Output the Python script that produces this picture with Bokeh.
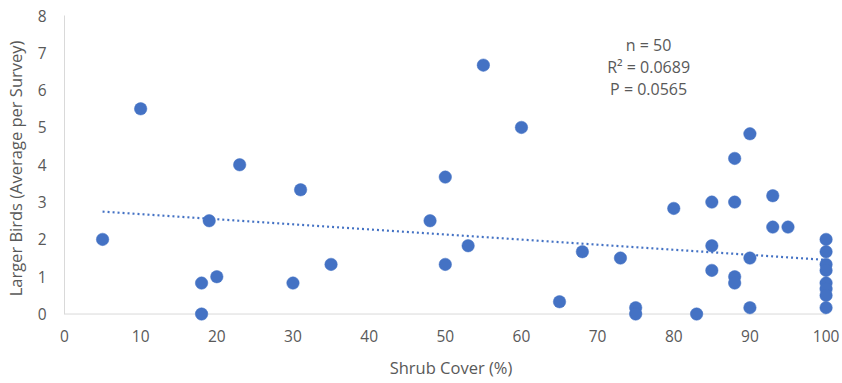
from bokeh.plotting import figure
from bokeh.models import Range1d, FixedTicker, Label
from bokeh.embed import file_html
from bokeh.resources import INLINE

# ---- data ----
shrub_cover = [5, 10, 18, 18, 19, 20, 23, 30, 31, 35, 48, 50, 50, 53, 55, 60, 65, 68, 73, 75, 75,
               80, 83, 85, 85, 85, 88, 88, 88, 88, 90, 90, 90, 93, 93, 95,
               100, 100, 100, 100, 100, 100, 100, 100]
larger_birds = [2.0, 5.5, 0.83, 0.0, 2.5, 1.0, 4.0, 0.83, 3.33, 1.33, 2.5, 3.67, 1.33, 1.83, 6.67, 5.0, 0.33, 1.67, 1.5, 0.17, 0.0,
                2.83, 0.0, 3.0, 1.83, 1.17, 4.17, 3.0, 1.0, 0.83, 4.83, 1.5, 0.17, 3.17, 2.33, 2.33,
                2.0, 1.67, 1.33, 1.17, 0.83, 0.67, 0.5, 0.17]
trend_x = [5, 100]
trend_y = [2.745, 1.45]
x_ticks = [0, 10, 20, 30, 40, 50, 60, 70, 80, 90, 100]
y_ticks = [0, 1, 2, 3, 4, 5, 6, 7, 8]
stats_lines = ["n = 50", "R\u00b2 = 0.0689", "P = 0.0565"]
x_bounds = (0, 100)
y_bounds = (0, 8)

BLUE = "#4472C4"
TEXT = "#595959"
AXIS = "#D9D9D9"
FONT = "Open Sans"

p = figure(width=842, height=383, output_backend="svg", toolbar_location=None,
           x_range=Range1d(0, 101.5), y_range=Range1d(-0.2, 8.0),
           min_border_left=63, min_border_right=5, min_border_top=15, min_border_bottom=62)
p.outline_line_color = None
p.grid.visible = False
p.background_fill_color = "white"
p.border_fill_color = "white"

for ax in (p.xaxis[0], p.yaxis[0]):
    ax.major_tick_line_color = None
    ax.minor_tick_line_color = None
    ax.major_tick_in = 0
    ax.major_tick_out = 0
    ax.minor_tick_in = 0
    ax.minor_tick_out = 0
    ax.major_label_text_font = FONT
    ax.major_label_text_font_size = "15.5px"
    ax.major_label_text_color = TEXT
    ax.axis_label_text_font = FONT
    ax.axis_label_text_font_size = "16.5px"
    ax.axis_label_text_color = TEXT
    ax.axis_label_text_font_style = "normal"

p.xaxis.ticker = FixedTicker(ticks=x_ticks)
p.yaxis.ticker = FixedTicker(ticks=y_ticks)
p.xaxis.bounds = x_bounds
p.yaxis.bounds = y_bounds
p.xaxis.axis_line_color = None
p.yaxis.axis_line_color = AXIS
p.yaxis.axis_line_width = 1
p.xaxis.major_label_standoff = 8
p.yaxis.major_label_standoff = 18
p.xaxis.axis_label_standoff = 11
p.yaxis.axis_label_standoff = 8
p.xaxis.axis_label = "Shrub Cover (%)"
p.yaxis.axis_label = "Larger Birds (Average per Survey)"

# baseline of the value axis at y = 0
p.line(x=list(x_bounds), y=[y_bounds[0], y_bounds[0]], line_color=AXIS, line_width=1)

# trendline
p.line(x=trend_x, y=trend_y, line_color=BLUE, line_width=2.2, line_dash="2 3")

# points
p.scatter(x=shrub_cover, y=larger_birds, size=12.5, fill_color=BLUE, line_color=BLUE, line_width=0.5)

# stats annotation
for i, t in enumerate(stats_lines):
    p.add_layout(Label(x=76.7, y=7.22 - i * 0.6, text=t, text_align="center", text_baseline="middle",
                       text_font=FONT, text_font_size="16px", text_color=TEXT))

open("out.html", "w").write(file_html(p, INLINE))
